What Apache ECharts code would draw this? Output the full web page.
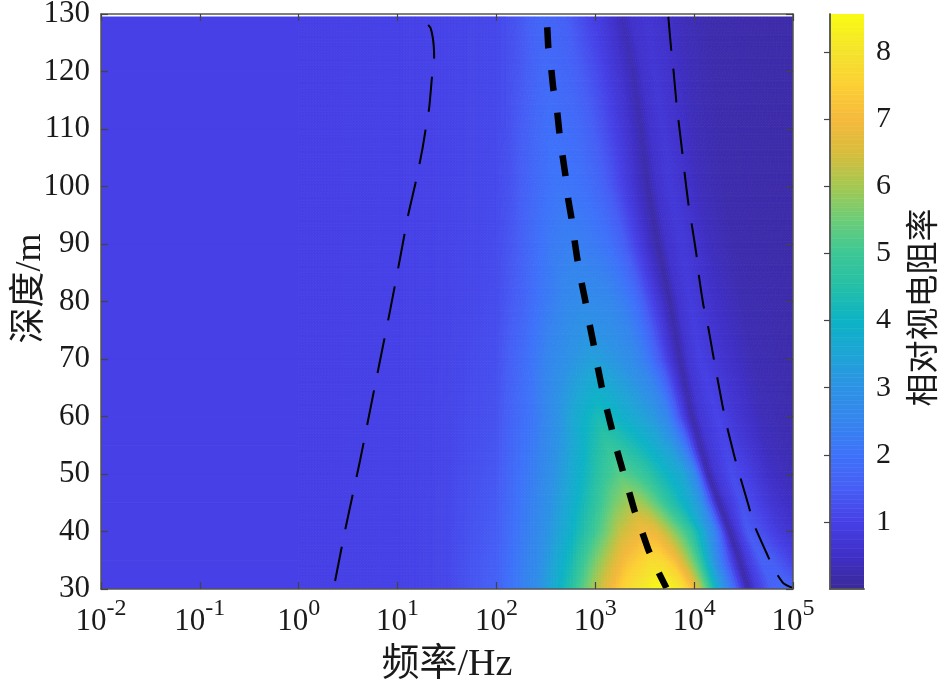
<!DOCTYPE html>
<html>
<head>
<meta charset="utf-8">
<style>html,body{margin:0;padding:0;background:#fff}#c{width:947px;height:686px}</style>
<script src="https://cdn.jsdelivr.net/npm/echarts@6/dist/echarts.min.js"></script>
</head>
<body>
<div id="c"></div>
<script>
// Depth of each mesh row (m)
var rowDepths = [30,35,40,45,50,55,60,70,80,90,100,110,120,129.5];
// log10(frequency) of the mesh nodes, one line per depth row
var nodeLogFreq = [
[-2,0,1,1.5,2,2.4,2.75,3.0,3.3,3.63,3.75,3.875,4.0,4.125,4.25,4.38,4.55,4.63,4.8,4.9,4.96,5],
[-2,0,1,1.5,2,2.4,2.75,3.0,3.3,3.56,3.68,3.8,3.92,4.04,4.16,4.3,4.46,4.54,4.68,4.8,4.92,5],
[-2,0,1,1.5,2,2.4,2.75,3.0,3.25,3.49,3.62,3.75,3.88,3.98,4.1,4.22,4.36,4.44,4.54,4.7,4.85,5],
[-2,0,1,1.5,2,2.4,2.75,3.0,3.2,3.37,3.5,3.63,3.72,3.83,3.94,4.07,4.25,4.33,4.48,4.62,4.8,5],
[-2,0,1,1.5,2,2.4,2.7,2.9,3.08,3.25,3.38,3.51,3.64,3.77,3.9,4.01,4.14,4.22,4.38,4.55,4.75,5],
[-2,0,1,1.5,2,2.4,2.7,2.85,2.95,3.13,3.26,3.39,3.52,3.65,3.78,3.91,4.06,4.14,4.32,4.48,4.72,5],
[-2,0,1,1.5,2,2.4,2.65,2.75,2.85,3.03,3.17,3.31,3.45,3.59,3.73,3.87,3.98,4.06,4.24,4.42,4.68,5],
[-2,0,1,1.5,2,2.3,2.55,2.7,2.8,2.98,3.12,3.25,3.39,3.52,3.65,3.77,3.86,3.94,4.06,4.3,4.6,5],
[-2,0,1,1.5,2,2.25,2.5,2.6,2.7,2.85,3.0,3.15,3.3,3.42,3.55,3.67,3.76,3.84,3.96,4.22,4.5,5],
[-2,0,1,1.5,2,2.2,2.4,2.48,2.55,2.72,2.86,3.0,3.14,3.28,3.4,3.52,3.64,3.72,3.88,4.15,4.4,5],
[-2,0,1,1.5,2,2.15,2.35,2.42,2.5,2.62,2.76,2.9,3.04,3.18,3.3,3.42,3.54,3.62,3.76,4.05,4.3,5],
[-2,0,1,1.5,2,2.1,2.3,2.36,2.42,2.55,2.69,2.83,2.97,3.1,3.23,3.36,3.47,3.55,3.69,4.0,4.25,5],
[-2,0,1,1.5,2,2.1,2.25,2.32,2.38,2.5,2.63,2.76,2.9,3.03,3.15,3.28,3.39,3.47,3.6,3.95,4.2,5],
[-2,0,1,1.5,2,2.1,2.2,2.27,2.33,2.45,2.57,2.7,2.82,2.94,3.06,3.18,3.28,3.36,3.53,3.9,4.15,5]
];
// Relative apparent resistivity read at the same nodes
var nodeResistivity = [
[1,1,1.02,1.12,1.6,2.8,4.5,6.1,7.7,8.55,8.5,8.1,7.1,5.4,3.6,2.2,0.1,0.8,1.6,1.7,1.7,1.65],
[1,1,1.02,1.12,1.55,2.7,4.2,5.6,7.1,7.8,7.7,7.2,6.2,5.1,3.6,1.9,0.1,0.8,1.55,1.5,1.2,1.0],
[1,1,1.02,1.12,1.5,2.6,3.9,5.0,6.3,7.0,6.8,6.1,5.3,4.7,3.6,2.4,0.1,0.75,1.45,1.2,0.85,0.6],
[1,1,1.02,1.12,1.45,2.5,3.7,4.7,5.6,6.1,5.9,5.3,4.8,4.3,3.8,3.1,0.12,0.7,1.3,1.05,0.65,0.4],
[1,1,1.02,1.1,1.4,2.4,3.4,4.1,4.8,5.3,5.1,4.8,4.3,3.9,3.5,2.7,0.12,0.7,1.2,0.95,0.5,0.3],
[1,1,1.02,1.1,1.35,2.3,3.3,3.85,4.2,4.8,4.6,4.3,4.0,3.6,3.2,2.2,0.15,0.7,1.1,0.8,0.4,0.25],
[1,1,1.02,1.1,1.3,2.2,3.1,3.5,3.8,4.3,4.1,3.8,3.5,3.2,2.6,1.2,0.15,0.7,1.05,0.7,0.35,0.22],
[1,1,1.02,1.08,1.25,1.9,2.6,2.9,3.1,3.35,3.2,3.0,2.7,2.25,1.5,0.7,0.15,0.65,0.95,0.6,0.28,0.2],
[1,1,1.02,1.07,1.2,1.6,2.2,2.4,2.6,2.75,2.7,2.6,2.3,1.9,1.2,0.6,0.12,0.6,0.85,0.5,0.25,0.2],
[1,1,1.02,1.07,1.18,1.45,1.9,2.05,2.2,2.35,2.3,2.2,2.0,1.6,1.1,0.6,0.12,0.55,0.8,0.42,0.22,0.18],
[1,1,1.02,1.06,1.16,1.32,1.7,1.82,1.95,2.1,2.05,1.95,1.7,1.35,0.95,0.55,0.15,0.55,0.78,0.38,0.22,0.18],
[1,1,1.02,1.06,1.15,1.24,1.55,1.68,1.8,1.95,1.9,1.8,1.55,1.25,0.9,0.55,0.2,0.55,0.75,0.35,0.22,0.18],
[1,1,1.02,1.06,1.14,1.23,1.4,1.53,1.65,1.8,1.75,1.65,1.4,1.15,0.85,0.55,0.25,0.55,0.72,0.35,0.22,0.18],
[1,1,1.02,1.06,1.13,1.22,1.32,1.43,1.55,1.7,1.65,1.55,1.3,1.05,0.85,0.55,0.3,0.55,0.68,0.35,0.22,0.18]
];
// Dashed curves: log10(frequency) and depth
var leftLogFreq  = [1.310,1.335,1.355,1.366,1.370,1.350,1.320,1.289,1.249,1.188,1.107,1.026,0.925,0.773,0.621,0.470,0.368];
var leftDepth    = [128.1,127.5,126.0,124.4,122.5,119.4,113.7,110.5,106.3,101.1,95.0,87.6,78.5,65.5,52.4,40.3,31.4];
var midLogFreq   = [2.514,2.524,2.555,2.575,2.615,2.636,2.666,2.696,2.727,2.757,2.787,2.818,2.858,2.899,2.939,2.980,3.020,3.061,3.111,3.162,3.213,3.273,3.334,3.395,3.466,3.537,3.628,3.719];
var midDepth     = [127.7,124.3,120.4,117.0,113.0,109.5,105.7,102.2,97.7,94.7,91.0,87.4,83.6,80.1,76.3,72.8,69.0,65.5,61.7,58.2,54.5,50.9,47.4,43.7,40.3,36.8,33.3,30.2];
var rightLogFreq = [3.739,3.769,3.789,3.820,3.840,3.881,3.901,3.941,3.972,4.022,4.043,4.093,4.134,4.194,4.225,4.286,4.326,4.407,4.457,4.549,4.599,4.731,4.812,4.903,4.994];
var rightDepth   = [129.5,123.6,120.6,114.7,111.7,105.8,102.7,97.1,93.8,88.3,85.1,79.4,76.3,70.5,67.6,62.0,58.7,53.1,50.0,44.6,41.5,36.3,33.3,31.0,30.2];
// Axis ticks and titles
var depthTicks = [30,40,50,60,70,80,90,100,110,120,130];
var colorbarTicks = [1,2,3,4,5,6,7,8];
var colorMin = 0, colorMax = 8.57;
var xTitle = '频率/Hz', yTitle = '深度/m', cbTitle = '相对视电阻率';
// Colour scale: [value, r, g, b]
var colorStops = [
[0,59,42,152],[0.5,64,48,200],[1,70,64,230],[1.5,70,94,245],[2,62,114,250],[2.5,53,133,238],[3,45,146,229],
[3.5,31,165,213],[4,13,179,198],[4.5,37,191,168],[5,61,200,150],[5.5,107,205,120],[6,164,200,82],[6.5,216,189,60],
[7,245,185,60],[7.5,253,208,53],[8,245,227,45],[8.57,249,251,20]
];

function colorOf(v){
  var s=colorStops,i=0;
  if(v<=s[0][0])return 'rgb('+s[0][1]+','+s[0][2]+','+s[0][3]+')';
  while(i<s.length-2&&v>s[i+1][0])i++;
  var t=Math.min(1,(v-s[i][0])/(s[i+1][0]-s[i][0])),a=s[i],b=s[i+1];
  return 'rgb('+Math.round(a[1]+(b[1]-a[1])*t)+','+Math.round(a[2]+(b[2]-a[2])*t)+','+Math.round(a[3]+(b[3]-a[3])*t)+')';
}
function toLine(lf,d){return lf.map(function(l,i){return [Math.pow(10,l),d[i]];});}

var meshCells=[];
for(var r=0;r<rowDepths.length-1;r++)for(var k=0;k<nodeLogFreq[0].length-1;k++)meshCells.push([Math.pow(10,nodeLogFreq[r][k]),rowDepths[r],r,k]);

function renderMesh(params,api){
  var r=api.value(2),k=api.value(3);
  var lf0=nodeLogFreq[r],lf1=nodeLogFreq[r+1],v0=nodeResistivity[r],v1=nodeResistivity[r+1];
  var d0=rowDepths[r],d1=rowDepths[r+1];
  var a=api.coord([Math.pow(10,lf0[k]),d0]),b=api.coord([Math.pow(10,lf0[k+1]),d0]);
  var c=api.coord([Math.pow(10,lf1[k+1]),d1]),e=api.coord([Math.pow(10,lf1[k]),d1]);
  var w=Math.max(b[0]-a[0],c[0]-e[0]),h=Math.abs(a[1]-e[1]);
  var dv=Math.max(Math.abs(v0[k+1]-v0[k]),Math.abs(v1[k+1]-v1[k]));
  var nx=dv<0.005?1:Math.max(4,Math.ceil(w/3));
  var ny=dv<0.005?1:Math.max(1,Math.ceil(h/3));
  var kids=[];
  function P(s,t){
    var tx=(a[0]+(b[0]-a[0])*s)*(1-t)+(e[0]+(c[0]-e[0])*s)*t;
    var ty=a[1]+(e[1]-a[1])*t;
    return [tx,ty];
  }
  for(var j=0;j<ny;j++)for(var i=0;i<nx;i++){
    var s0=i/nx,s1=(i+1)/nx,t0=j/ny,t1=(j+1)/ny,sm=(s0+s1)/2,tm=(t0+t1)/2;
    var va=v0[k]+(v0[k+1]-v0[k])*sm,vb=v1[k]+(v1[k+1]-v1[k])*sm,col=colorOf(va+(vb-va)*tm);
    kids.push({type:'polygon',silent:true,shape:{points:[P(s0,t0),P(s1,t0),P(s1,t1),P(s0,t1)]},style:{fill:col,stroke:col,lineWidth:0.8}});
  }
  return {type:'group',children:kids};
}

var barLevels=[];
for(var q=0;q<128;q++)barLevels.push([0,colorMin+(colorMax-colorMin)*q/128,colorMin+(colorMax-colorMin)*(q+1)/128]);
function renderBar(params,api){
  var p0=api.coord([0,api.value(1)]),p1=api.coord([1,api.value(2)]);
  var col=colorOf((api.value(1)+api.value(2))/2);
  return {type:'rect',silent:true,shape:{x:p0[0],y:p1[1],width:p1[0]-p0[0],height:p0[1]-p1[1]},style:{fill:col,stroke:col,lineWidth:0.6}};
}

var FONT="'Liberation Serif','Noto Sans CJK SC',serif";
var AX='#555555';
var line={show:true,lineStyle:{color:AX,width:1.5}};
var tick={show:true,inside:true,length:7,lineStyle:{color:'#444444',width:1.2}};
var none={show:false};

var chart=echarts.init(document.getElementById('c'),null,{renderer:'canvas'});
chart.setOption({
  animation:false,
  backgroundColor:'#fff',
  grid:[
    {left:101,top:14,width:692,height:575,containLabel:false,outerBoundsMode:'none'},
    {left:830,top:14,width:34,height:575,containLabel:false,outerBoundsMode:'none'}
  ],
  xAxis:[
    {gridIndex:0,type:'log',logBase:10,min:0.01,max:100000,position:'bottom',z:10,axisLine:line,axisTick:tick,minorTick:none,splitLine:none,minorSplitLine:none,
     name:xTitle,nameLocation:'middle',nameGap:57,nameMoveOverlap:false,nameTextStyle:{fontFamily:FONT,fontSize:38,color:'#1a1a1a'},
     axisLabel:{show:true,margin:11,color:'#1a1a1a',fontFamily:FONT,showMinLabel:true,showMaxLabel:true,hideOverlap:false,
       formatter:function(v){return '{b|10}{s|'+Math.round(Math.log10(v))+'}';},
       rich:{b:{fontFamily:FONT,fontSize:31,color:'#1a1a1a',lineHeight:30,padding:[13,0,0,0]},s:{fontFamily:FONT,fontSize:24,color:'#1a1a1a',lineHeight:24,padding:[0,0,13,0]}}}},
    {gridIndex:0,type:'log',logBase:10,min:0.01,max:100000,position:'top',z:10,axisLine:line,axisTick:tick,minorTick:none,splitLine:none,axisLabel:none},
    {gridIndex:1,type:'value',min:0,max:1,position:'bottom',z:10,axisLine:line,axisTick:none,splitLine:none,axisLabel:none},
    {gridIndex:1,type:'value',min:0,max:1,position:'top',z:10,axisLine:line,axisTick:none,splitLine:none,axisLabel:none}
  ],
  yAxis:[
    {gridIndex:0,type:'value',min:30,max:130,interval:10,position:'left',z:10,axisLine:line,axisTick:tick,splitLine:none,
     name:yTitle,nameLocation:'middle',nameGap:52,nameRotate:90,nameMoveOverlap:false,nameTextStyle:{fontFamily:FONT,fontSize:36,color:'#1a1a1a',padding:[0,0,0,26]},
     axisLabel:{margin:11,color:'#1a1a1a',fontFamily:FONT,fontSize:31,padding:[5,0,0,0],customValues:depthTicks}},
    {gridIndex:0,type:'value',min:30,max:130,interval:10,position:'right',z:10,axisLine:line,axisTick:tick,splitLine:none,axisLabel:none},
    {gridIndex:1,type:'value',min:colorMin,max:colorMax,position:'left',z:10,axisLine:line,axisTick:none,splitLine:none,axisLabel:none},
    {gridIndex:1,type:'value',min:colorMin,max:colorMax,position:'right',z:10,axisLine:line,splitLine:none,
     axisTick:{show:true,inside:true,length:6,lineStyle:{color:'#444444',width:1.2},customValues:colorbarTicks},
     name:cbTitle,nameLocation:'middle',nameGap:45,nameRotate:90,nameMoveOverlap:false,nameTextStyle:{fontFamily:FONT,fontSize:33,color:'#1a1a1a',padding:[0,12,0,0]},
     axisLabel:{margin:12,color:'#1a1a1a',fontFamily:FONT,fontSize:30,padding:[4,0,0,0],customValues:colorbarTicks}}
  ],
  series:[
    {type:'custom',xAxisIndex:0,yAxisIndex:0,coordinateSystem:'cartesian2d',clip:true,silent:true,z:2,data:meshCells,renderItem:renderMesh,encode:{x:0,y:1},progressive:0},
    {type:'custom',xAxisIndex:2,yAxisIndex:3,coordinateSystem:'cartesian2d',clip:true,silent:true,z:2,data:barLevels,renderItem:renderBar,encode:{x:0,y:1},progressive:0},
    {type:'line',xAxisIndex:0,yAxisIndex:0,z:5,silent:true,showSymbol:false,smooth:0.2,data:toLine(leftLogFreq,leftDepth),lineStyle:{color:'#000',width:2,type:[35,18.2],cap:'butt'}},
    {type:'line',xAxisIndex:0,yAxisIndex:0,z:5,silent:true,showSymbol:false,smooth:false,data:toLine(midLogFreq,midDepth),lineStyle:{color:'#000',width:6.5,type:[21,22],cap:'butt'}},
    {type:'line',xAxisIndex:0,yAxisIndex:0,z:5,silent:true,showSymbol:false,smooth:0.2,data:toLine(rightLogFreq,rightDepth),lineStyle:{color:'#000',width:2,type:[34,18],cap:'butt'}}
  ]
});
</script>
</body>
</html>
